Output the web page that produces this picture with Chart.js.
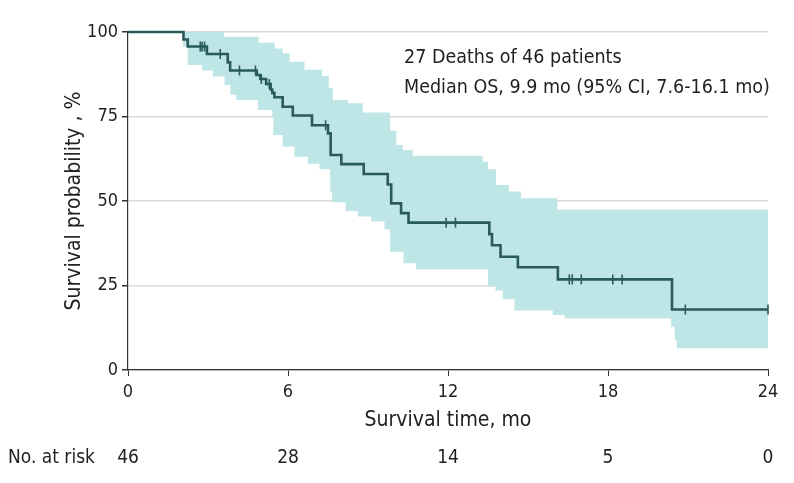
<!DOCTYPE html>
<html>
<head>
<meta charset="utf-8">
<script src="https://cdn.jsdelivr.net/npm/chart.js@4.4.1/dist/chart.umd.min.js"></script>
<style>
    html, body { margin: 0; padding: 0; background: #fff; }
    #wrap { width: 794px; height: 483px; }
</style>
</head>
<body>
<div id="wrap"><canvas id="kmChart" width="794" height="483"></canvas></div>
<script>
// Kaplan-Meier - overall survival
const kmTimes = [0, 2.08, 2.24, 2.96, 3.74, 3.83, 4.83, 4.96, 5.18, 5.35, 5.41, 5.49, 5.8, 6.18, 6.9, 7.5, 7.6, 8.0, 8.84, 9.74, 9.87, 10.24, 10.52, 13.55, 13.65, 13.97, 14.62, 16.12, 20.4, 24];
const kmSurv  = [100, 97.8, 95.7, 93.5, 91.0, 88.6, 87.3, 86.1, 84.6, 83.0, 82.0, 80.7, 77.9, 75.3, 72.4, 70.0, 63.6, 60.9, 58.0, 54.9, 49.3, 46.4, 43.6, 40.2, 36.9, 33.5, 30.4, 26.8, 17.9, 17.9];

const censorTimes = [2.71, 2.78, 2.87, 3.46, 4.18, 4.78, 5.0, 5.3, 7.41, 11.93, 12.28, 16.55, 16.66, 17.0, 18.18, 18.53, 20.9, 24.0];

const ciUpperTimes = [0, 3.6, 4.9, 5.5, 5.8, 6.06, 6.62, 7.28, 7.53, 7.68, 8.24, 8.8, 9.83, 10.06, 10.3, 10.68, 13.3, 13.5, 13.8, 14.28, 14.74, 16.1, 24];
const ciUpper      = [100, 98.6, 96.8, 95.1, 93.7, 91.2, 88.8, 87.0, 83.4, 79.9, 78.9, 76.2, 70.8, 66.6, 65.1, 63.4, 61.6, 59.4, 54.7, 52.8, 50.8, 47.5, 47.5];

const ciLowerTimes = [0, 2.06, 2.24, 2.78, 3.18, 3.62, 3.84, 4.06, 4.87, 5.41, 5.45, 5.8, 6.24, 6.74, 7.18, 7.58, 7.65, 8.16, 8.62, 9.12, 9.62, 9.83, 10.33, 10.8, 13.5, 13.78, 14.05, 14.49, 15.93, 16.37, 20.37, 20.5, 20.58, 24];
const ciLower      = [100, 95.7, 90.2, 88.6, 86.8, 84.3, 81.4, 79.9, 76.9, 74.5, 69.5, 66.1, 63.1, 61.0, 59.4, 52.8, 49.6, 47.0, 45.4, 43.9, 41.6, 35.0, 31.6, 29.7, 24.7, 23.5, 20.9, 17.6, 16.3, 15.2, 12.8, 8.7, 6.4, 6.4];

const xTicks = [0, 6, 12, 18, 24];
const atRisk = [46, 28, 14, 5, 0];

const annotationLines = ['27 Deaths of 46 patients', 'Median OS, 9.9 mo (95% CI, 7.6-16.1 mo)'];

const lineColor = '#2a5b5b';
const bandColor = '#bfe6e6';
const textColor = '#1f1f1f';
const fontFamily = "'Liberation Sans Narrow', 'DejaVu Sans Condensed', 'Roboto', sans-serif";

function toPoints(xs, ys) {
    return xs.map((x, i) => ({ x: x, y: ys[i] }));
}

// survival value at time t, for placing the censor ticks
function survAt(t) {
    let s = kmSurv[0];
    for (let i = 0; i < kmTimes.length; i++) {
        if (kmTimes[i] <= t) s = kmSurv[i];
    }
    return s;
}

Chart.defaults.font.family = fontFamily;
Chart.defaults.color = textColor;

const extraText = {
    id: 'extraText',
    afterDraw(chart) {
        const ctx = chart.ctx;
        const xScale = chart.scales.x;
        ctx.save();
        ctx.fillStyle = textColor;
        ctx.font = '19.5px ' + fontFamily;
        ctx.textAlign = 'left';
        ctx.textBaseline = 'middle';
        ctx.fillText(annotationLines[0], 404, 58);
        ctx.fillText(annotationLines[1], 404, 88);

        ctx.font = '19px ' + fontFamily;
        ctx.fillText('No. at risk', 8, 458);
        ctx.textAlign = 'center';
        xTicks.forEach((t, i) => {
            ctx.fillText(String(atRisk[i]), xScale.getPixelForValue(t), 458);
        });
        ctx.restore();
    }
};

const kmCtx = document.getElementById('kmChart');
new Chart(kmCtx, {
    type: 'line',
    data: {
        datasets: [
            {
                label: 'KM',
                data: toPoints(kmTimes, kmSurv),
                borderColor: lineColor,
                borderWidth: 2.6,
                stepped: true,
                pointRadius: 0,
                fill: false,
                clip: 6
            },
            {
                label: 'Censored',
                data: censorTimes.map(t => ({ x: t, y: survAt(t) })),
                showLine: false,
                pointStyle: 'line',
                rotation: 90,
                pointRadius: 5,
                pointBorderWidth: 1.6,
                borderColor: lineColor,
                pointBorderColor: lineColor,
                clip: 8
            },
            {
                label: 'CI upper',
                data: toPoints(ciUpperTimes, ciUpper),
                borderWidth: 0,
                borderColor: 'rgba(0,0,0,0)',
                stepped: true,
                pointRadius: 0,
                fill: false
            },
            {
                label: 'CI lower',
                data: toPoints(ciLowerTimes, ciLower),
                borderWidth: 0,
                borderColor: 'rgba(0,0,0,0)',
                backgroundColor: bandColor,
                stepped: true,
                pointRadius: 0,
                fill: '-1'
            }
        ]
    },
    options: {
        responsive: false,
        animation: false,
        layout: {
            padding: { left: 62, right: 26, top: 32, bottom: 0 }
        },
        plugins: {
            legend: { display: false },
            tooltip: { enabled: false }
        },
        scales: {
            x: {
                type: 'linear',
                min: 0,
                max: 24,
                afterFit: function(scale) { scale.height = 113; },
                afterBuildTicks: function(scale) {
                    scale.ticks = xTicks.map(v => ({ value: v }));
                },
                border: { color: '#333', width: 1.2 },
                grid: {
                    drawOnChartArea: false,
                    tickColor: '#333',
                    tickLength: 6
                },
                ticks: {
                    font: { size: 18 },
                    padding: 6,
                    color: textColor,
                    maxRotation: 0
                },
                title: {
                    display: true,
                    text: 'Survival time, mo',
                    font: { size: 21 },
                    color: textColor,
                    padding: { top: 0, bottom: 50 }
                }
            },
            y: {
                min: 0,
                max: 100,
                afterFit: function(scale) { scale.width = 66; },
                border: { color: '#333', width: 1.2 },
                grid: {
                    color: '#d9d9d9',
                    lineWidth: 1.5,
                    tickColor: '#333',
                    tickLength: 6
                },
                ticks: {
                    stepSize: 25,
                    font: { size: 18 },
                    padding: 4,
                    color: textColor
                },
                title: {
                    display: true,
                    text: 'Survival probability , %',
                    font: { size: 21 },
                    color: textColor,
                    padding: { top: 0, bottom: 0 }
                }
            }
        }
    },
    plugins: [extraText]
});
</script>
</body>
</html>
